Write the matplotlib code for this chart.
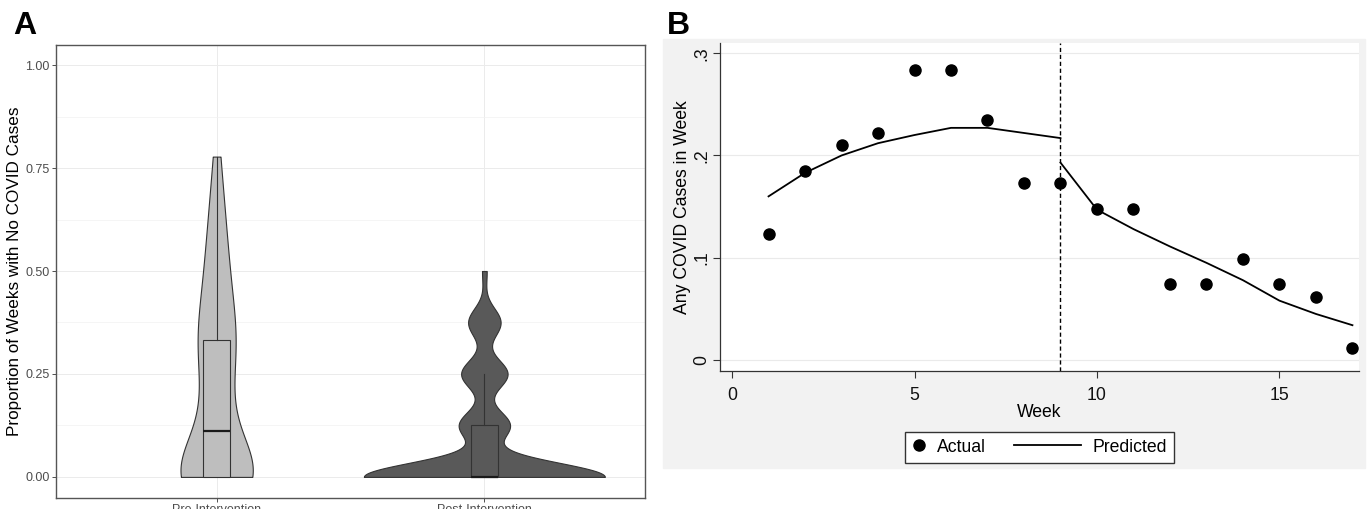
import numpy as np
import matplotlib.pyplot as plt
from matplotlib.legend_handler import HandlerLine2D
from matplotlib.patches import Rectangle

plt.rcParams['font.family'] = ['Liberation Sans', 'DejaVu Sans']

# panel A: 81 units, number of units with k weeks (k = 0..9 pre, 0..8 post)
groups = ['Pre-Intervention', 'Post-Intervention']
pre_weeks = 9
pre_counts = [33, 8, 8, 12, 8, 6, 4, 2]
post_weeks = 8
post_counts = [52, 11, 10, 7, 1]

# panel B: share of units with any case, by week
week = np.arange(1, 18)
actual = [0.123, 0.185, 0.210, 0.222, 0.284, 0.284, 0.235, 0.173, 0.173,
          0.148, 0.148, 0.074, 0.074, 0.099, 0.074, 0.062, 0.012]
week_pre = np.arange(1, 10)
pred_pre = [0.160, 0.183, 0.200, 0.212, 0.220, 0.227, 0.227, 0.222, 0.217]
week_post = np.arange(9, 18)
pred_post = [0.193, 0.147, 0.128, 0.111, 0.095, 0.078, 0.058, 0.045, 0.034]
break_week = 9

pre = np.repeat(np.arange(len(pre_counts)) / pre_weeks, pre_counts)
post = np.repeat(np.arange(len(post_counts)) / post_weeks, post_counts)


def nrd0(x):
    # R's default bandwidth, as used by ggplot's geom_violin
    sd = np.std(x, ddof=1)
    q75, q25 = np.percentile(x, [75, 25])
    return 0.9 * min(sd, (q75 - q25) / 1.34) * len(x) ** -0.2


def bw_factor(kde):
    x = kde.dataset.ravel()
    return nrd0(x) / np.std(x, ddof=1)


class ShortHandle(HandlerLine2D):
    def legend_artist(self, legend, orig_handle, fontsize, handlebox):
        handlebox.width = 0.8 * fontsize
        return super().legend_artist(legend, orig_handle, fontsize, handlebox)


W, H = 1371, 509
fig = plt.figure(figsize=(W / 100, H / 100), dpi=100)

# ---------------- panel A ----------------
axA = fig.add_axes([56 / W, 1 - 497.5 / H, 589 / W, 453 / H])
fills = ['#bebebe', '#595959']
vp = axA.violinplot([pre, post], positions=[1, 2], widths=[0.27, 0.9],
                    showextrema=False, points=512, bw_method=bw_factor)
for body, c in zip(vp['bodies'], fills):
    body.set_facecolor(c)
    body.set_edgecolor('#333333')
    body.set_linewidth(0.8)
    body.set_alpha(1)
    body.set_zorder(2)

bp = axA.boxplot([pre, post], positions=[1, 2], widths=0.1, patch_artist=True,
                 showfliers=False, showcaps=False, manage_ticks=False,
                 boxprops=dict(edgecolor='#333333', linewidth=0.8),
                 whiskerprops=dict(color='#333333', linewidth=0.8),
                 medianprops=dict(color='#1a1a1a', linewidth=1.6))
for box, c in zip(bp['boxes'], fills):
    box.set_facecolor(c)
for part in ['boxes', 'whiskers', 'medians']:
    for a in bp[part]:
        a.set_zorder(3)

axA.set_xlim(0.4, 2.6)
axA.set_ylim(-0.05, 1.05)
axA.set_xticks([1, 2])
axA.set_xticklabels(groups)
axA.set_yticks([0, 0.25, 0.5, 0.75, 1.0])
axA.set_yticklabels(['0.00', '0.25', '0.50', '0.75', '1.00'])
axA.set_yticks([0.125, 0.375, 0.625, 0.875], minor=True)
axA.grid(which='major', color='#ebebeb', linewidth=0.7)
axA.grid(which='minor', axis='y', color='#f1f1f1', linewidth=0.5)
axA.set_axisbelow(True)
for s in axA.spines.values():
    s.set_color('#555555')
    s.set_linewidth(1.0)
axA.tick_params(which='major', colors='#333333', labelcolor='#4d4d4d',
                labelsize=9, length=3, width=0.6, pad=1.5)
axA.tick_params(which='minor', length=0)
axA.set_ylabel('Proportion of Weeks with No COVID Cases', fontsize=12.3,
               color='black')
axA.yaxis.set_label_coords(-0.058, 0.5)

# ---------------- panel B ----------------
fig.patches.append(Rectangle((663 / W, 1 - 468 / H), 702 / W, 429 / H,
                             transform=fig.transFigure, color='#f2f2f2',
                             zorder=-1))
axB = fig.add_axes([720 / W, 1 - 371 / H, 639 / W, 328 / H])
axB.set_facecolor('white')
pts, = axB.plot(week, actual, 'o', color='black', markersize=8,
                linestyle='none', zorder=3)
ln, = axB.plot(week_pre, pred_pre, color='black', linewidth=1.3, zorder=3)
axB.plot(week_post, pred_post, color='black', linewidth=1.3, zorder=3)
axB.axvline(break_week, color='black', linewidth=1.0,
            linestyle=(0, (3, 2)), zorder=2)

axB.set_xlim(-0.33, 17.18)
axB.set_ylim(-0.0108, 0.31)
axB.set_xticks([0, 5, 10, 15])
axB.set_yticks([0, 0.1, 0.2, 0.3])
axB.set_yticklabels(['0', '.1', '.2', '.3'], rotation=90, va='center')
axB.yaxis.grid(True, color='#eaeaea', linewidth=0.8)
axB.set_axisbelow(True)
for side in ['top', 'right']:
    axB.spines[side].set_visible(False)
for side in ['left', 'bottom']:
    axB.spines[side].set_color('#333333')
    axB.spines[side].set_linewidth(0.9)
axB.tick_params(colors='#333333', labelcolor='#111111', labelsize=12.7,
                length=5, width=0.8)
axB.tick_params(axis='x', pad=6.5)
axB.tick_params(axis='y', pad=2)
axB.set_xlabel('Week', fontsize=12.7)
axB.xaxis.set_label_coords(0.5, -0.1)
axB.set_ylabel('Any COVID Cases in Week', fontsize=12.7)
axB.yaxis.set_label_coords(-0.046, 0.5)

leg = axB.legend([pts, ln], ['Actual', 'Predicted'], ncol=2, loc='center',
                 bbox_to_anchor=(0.5, -0.232), frameon=True, fancybox=False,
                 edgecolor='#333333', framealpha=1, fontsize=12.7,
                 handlelength=3.8, handletextpad=0.65, columnspacing=1.6,
                 borderpad=0.4, borderaxespad=0,
                 handler_map={pts: ShortHandle()})
leg.get_frame().set_linewidth(1.0)

fig.text(13 / W, 1 - 34 / H, 'A', fontsize=23, fontweight='bold',
         ha='left', va='baseline')
fig.text(667 / W, 1 - 34 / H, 'B', fontsize=23, fontweight='bold',
         ha='left', va='baseline')

fig.savefig('out.png', dpi=100, facecolor='white')
